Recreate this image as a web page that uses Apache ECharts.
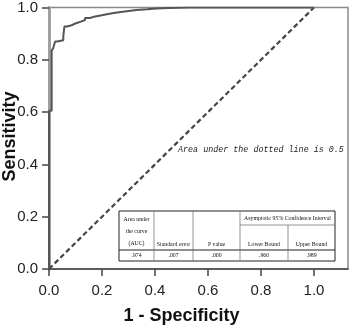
<!DOCTYPE html>
<html>
<head>
<meta charset="utf-8">
<script src="https://cdn.jsdelivr.net/npm/echarts@6/dist/echarts.min.js"></script>
<style>
  html, body { margin: 0; padding: 0; background: #fff; }
  #chart { width: 350px; height: 327px; }
</style>
</head>
<body>
<div id="chart"></div>
<script>
// ROC curve corner points (1 - specificity, sensitivity)
const rocX = [0, 0.01, 0.016, 0.023, 0.031, 0.054, 0.058, 0.067, 0.086, 0.095, 0.105, 0.12, 0.136, 0.155, 0.174, 0.2, 0.218, 0.25, 0.293, 0.33, 0.37, 0.406, 0.45, 0.53, 1.0]
const rocY = [0, 0.605, 0.835, 0.845, 0.87, 0.875, 0.89, 0.927, 0.932, 0.937, 0.941, 0.946, 0.952, 0.96, 0.966, 0.97, 0.974, 0.98, 0.986, 0.99, 0.993, 0.996, 0.998, 1.0, 1.0]
const refLine = [[0, 0], [1, 1]]
const tickValues = [0, 0.2, 0.4, 0.6, 0.8, 1.0]

// table under the curve
const tableHead = ['Area under\nthe curve\n(AUC)', 'Standard error', 'P value', 'Lower Bound', 'Upper Bound']
const tableGroupHead = 'Asymptotic 95% Confidence Interval'
const tableRow = ['.974', '.007', '.000', '.960', '.989']

let myChart = echarts.init(document.getElementById('chart'))

const gl = 49, gt = 4, gw = 299, gh = 265
const tl = 119, tt = 211, tr = 335, tb = 261
const colX = [tl, 154, 193, 240, 288, tr]
const subY = 225, sepY = 250

let graphics = [
  {
    type: 'text', x: 181.5, y: 316, style: {
      text: '1 - Specificity', font: 'bold 18px "Liberation Sans", Arial', fill: '#111',
      textAlign: 'center', textVerticalAlign: 'middle'
    }
  },
  {
    type: 'text', x: 10, y: 136.5, rotation: Math.PI / 2, style: {
      text: 'Sensitivity', font: 'bold 18px "Liberation Sans", Arial', fill: '#111',
      textAlign: 'center', textVerticalAlign: 'middle'
    }
  },
  {
    type: 'text', x: 178, y: 150, style: {
      text: 'Area under the dotted line is 0.5', font: 'italic 8.4px "Liberation Mono", monospace', fill: '#222',
      textVerticalAlign: 'middle'
    }
  },
  // table box
  {
    type: 'rect', shape: { x: tl, y: tt, width: tr - tl, height: tb - tt },
    style: { fill: '#fff', stroke: '#222', lineWidth: 1 }, z: 10
  },
  { type: 'line', shape: { x1: tl, y1: sepY, x2: tr, y2: sepY }, style: { stroke: '#222', lineWidth: 1 }, z: 11 },
  { type: 'line', shape: { x1: colX[3], y1: subY, x2: tr, y2: subY }, style: { stroke: '#666', lineWidth: 0.7 }, z: 11 }
]
for (let i = 1; i < colX.length - 1; i++) {
  graphics.push({
    type: 'line', shape: { x1: colX[i], y1: i === 4 ? subY : tt, x2: colX[i], y2: tb },
    style: { stroke: '#666', lineWidth: 0.7 }, z: 11
  })
}
const tFont = '5.8px "Liberation Serif", serif'
tableHead.forEach((t, i) => {
  const cx = (colX[i] + colX[i + 1]) / 2
  graphics.push({
    type: 'text', x: cx, y: i === 0 ? 231 : 244, z: 12,
    style: { text: t, font: tFont, fill: '#111', textAlign: 'center', textVerticalAlign: 'middle', lineHeight: 12 }
  })
})
graphics.push({
  type: 'text', x: (colX[3] + tr) / 2, y: 218, z: 12,
  style: { text: tableGroupHead, font: tFont, fill: '#111', textAlign: 'center', textVerticalAlign: 'middle' }
})
tableRow.forEach((t, i) => {
  graphics.push({
    type: 'text', x: (colX[i] + colX[i + 1]) / 2, y: 255.5, z: 12,
    style: { text: t, font: tFont, fill: '#111', textAlign: 'center', textVerticalAlign: 'middle' }
  })
})

let option = {
  animation: false,
  grid: { left: gl, top: gt, width: gw, height: gh, show: true, borderColor: '#8a8a8a', borderWidth: 1.5 },
  xAxis: [
    {
      type: 'value', min: 0, max: gw / gh,
      splitLine: { show: false },
      axisLine: { show: true, onZero: false, lineStyle: { color: '#444', width: 1.5 } },
      axisTick: { show: true, length: 7, customValues: tickValues, lineStyle: { color: '#444', width: 1.5 } },
      axisLabel: {
        customValues: tickValues, margin: 14, fontSize: 15, color: '#222',
        fontFamily: '"Liberation Sans", Arial', formatter: v => v.toFixed(1)
      }
    }
  ],
  yAxis: [
    {
      type: 'value', min: 0, max: 1,
      splitLine: { show: false },
      axisLine: { show: true, onZero: false, lineStyle: { color: '#444', width: 1.5 } },
      axisTick: { show: true, length: 7, customValues: tickValues, lineStyle: { color: '#444', width: 1.5 } },
      axisLabel: {
        customValues: tickValues, margin: 11, fontSize: 15, color: '#222',
        fontFamily: '"Liberation Sans", Arial', formatter: v => v.toFixed(1)
      }
    },
    {
      type: 'value', min: 0, max: 1, position: 'right',
      splitLine: { show: false },
      axisLine: { show: true, lineStyle: { color: '#a0a0a0', width: 3 } },
      axisTick: { show: false },
      axisLabel: { show: false }
    }
  ],
  series: [
    {
      type: 'line', data: refLine, symbol: 'none', silent: true,
      lineStyle: { color: '#444', width: 2.2, type: [5, 3] }
    },
    {
      type: 'line', data: rocX.map((x, i) => [x, rocY[i]]), step: 'start', symbol: 'none',
      lineStyle: { color: '#555', width: 2 }
    }
  ],
  graphic: graphics
}

myChart.setOption(option)
</script>
</body>
</html>
